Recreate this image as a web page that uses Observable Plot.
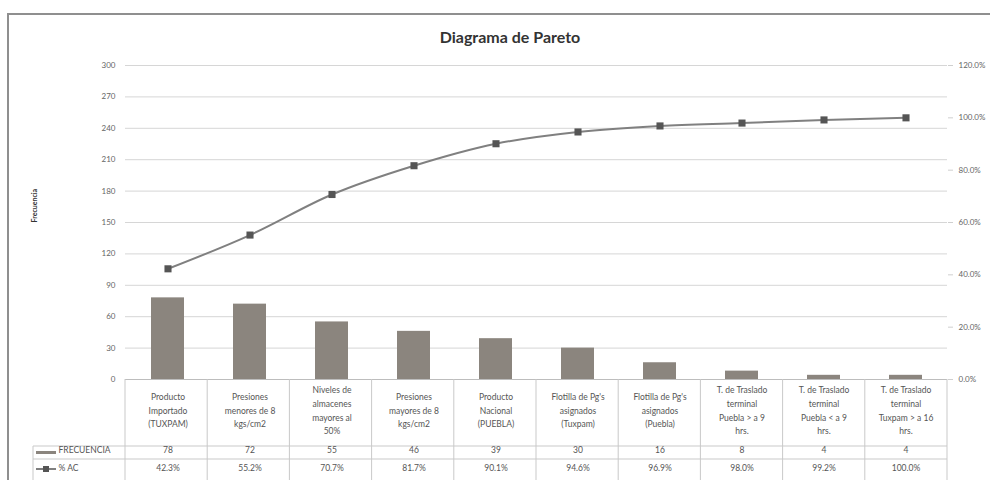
<!DOCTYPE html>
<html><head><meta charset="utf-8">
<script src="https://cdn.jsdelivr.net/npm/d3@7"></script>
<script src="https://cdn.jsdelivr.net/npm/@observablehq/plot@0.6"></script>
<style>
html,body{margin:0;padding:0;background:#fff;width:990px;height:480px;overflow:hidden;font-family:Lato,"Open Sans",sans-serif;}
#frame{position:absolute;left:7px;top:13px;width:1200px;height:600px;border-left:2px solid #8f8f8f;border-top:2px solid #8f8f8f;}
#title{position:absolute;top:27px;left:0;width:1020px;text-align:center;font:bold 16px Lato,"Open Sans",sans-serif;color:#333;}
#chart{position:absolute;left:0;top:50px;}
</style></head>
<body>
<div id="frame"></div>
<div id="title">Diagrama de Pareto</div>
<div id="chart"></div>
<script>
const categories = [
  "Producto\nImportado\n(TUXPAM)",
  "Presiones\nmenores de 8\nkgs/cm2",
  "Niveles de\nalmacenes\nmayores al\n50%",
  "Presiones\nmayores de 8\nkgs/cm2",
  "Producto\nNacional\n(PUEBLA)",
  "Flotilla de Pg's\nasignados\n(Tuxpam)",
  "Flotilla de Pg's\nasignados\n(Puebla)",
  "T. de Traslado\nterminal\nPuebla > a 9\nhrs.",
  "T. de Traslado\nterminal\nPuebla < a 9\nhrs.",
  "T. de Traslado\nterminal\nTuxpam > a 16\nhrs."
];
const frecuencia = [78, 72, 55, 46, 39, 30, 16, 8, 4, 4];
const acumulado = [42.3, 55.2, 70.7, 81.7, 90.1, 94.6, 96.9, 98.0, 99.2, 100.0];
const leftTicks = [0, 30, 60, 90, 120, 150, 180, 210, 240, 270, 300];
const rightTicks = [0, 20, 40, 60, 80, 100, 120];

const data = categories.map((c, i) => ({cat: c, f: frecuencia[i], p: acumulado[i]}));
const pctToY = p => p * 300 / 120;

const font = "Lato, 'Open Sans', sans-serif";
const tableColor = "#c9c9c9";

function tableLines(index, scales, values, dim) {
  const g = d3.create("svg:g");
  const x0 = dim.marginLeft, x1 = dim.width - dim.marginRight;
  const base = dim.height - dim.marginBottom;
  const n = categories.length, step = (x1 - x0) / n;
  const H = dim.height + 5;
  const tLeft = 33;
  const row1 = base + 67, row2 = base + 80;
  for (let i = 0; i <= n; i++) {
    g.append("line").attr("x1", x0 + i * step).attr("x2", x0 + i * step)
      .attr("y1", base).attr("y2", H).attr("stroke", tableColor);
  }
  g.append("line").attr("x1", tLeft).attr("x2", tLeft).attr("y1", row1).attr("y2", H).attr("stroke", tableColor);
  for (const yy of [row1, row2]) {
    g.append("line").attr("x1", tLeft).attr("x2", x1).attr("y1", yy).attr("y2", yy).attr("stroke", tableColor);
  }
  g.append("rect").attr("x", 36).attr("y", base + 72).attr("width", 20).attr("height", 3).attr("fill", "#8b857e");
  g.append("line").attr("x1", 36).attr("x2", 56).attr("y1", base + 90).attr("y2", base + 90).attr("stroke", "#7f7f7f").attr("stroke-width", 2);
  g.append("rect").attr("x", 43).attr("y", base + 87).attr("width", 6).attr("height", 6).attr("fill", "#555");
  return g.node();
}

const chart = Plot.plot({
  width: 990,
  height: 430,
  marginTop: 15,
  marginBottom: 101,
  marginLeft: 125,
  marginRight: 43,
  style: {fontFamily: font, background: "transparent", overflow: "visible"},
  x: {domain: categories, paddingInner: 0.6, paddingOuter: 0.3, axis: null},
  y: {domain: [0, 300], axis: null},
  marks: [
    Plot.gridY(leftTicks, {stroke: "#d6d6d6", strokeOpacity: 1}),
    Plot.ruleX([0], {frameAnchor: "left", stroke: "#cfcfcf"}),
    Plot.ruleX([0], {frameAnchor: "right", stroke: "#cfcfcf"}),
    Plot.barY(data, {x: "cat", y: "f", fill: "#8b857e"}),
    Plot.ruleY([0], {stroke: "#bdbdbd"}),
    Plot.lineY(data, {x: "cat", y: d => pctToY(d.p), stroke: "#808080", strokeWidth: 2, curve: "monotone-x"}),
    Plot.dot(data, {x: "cat", y: d => pctToY(d.p), symbol: "square", r: 4, fill: "#555", stroke: "none"}),
    Plot.axisY(leftTicks, {anchor: "left", label: null, tickSize: 0, tickPadding: 10, fontSize: 8, fill: "#666", tickFormat: d => String(d)}),
    Plot.axisY(rightTicks.map(pctToY), {anchor: "right", label: null, tickSize: 5, tickPadding: 6, fontSize: 8, fill: "#666", stroke: "#cfcfcf", tickFormat: d => (d * 120 / 300).toFixed(1) + "%"}),
    tableLines,
    Plot.text(data, {x: "cat", text: "cat", frameAnchor: "bottom", dy: 30, lineAnchor: "middle", lineHeight: 1.6, fontSize: 8.5, fill: "#555"}),
    Plot.text(data, {x: "cat", text: d => String(d.f), frameAnchor: "bottom", dy: 73.5, fontSize: 8.5, fill: "#555"}),
    Plot.text(data, {x: "cat", text: d => d.p.toFixed(1) + "%", frameAnchor: "bottom", dy: 91, fontSize: 8.5, fill: "#555"}),
    Plot.text(["FRECUENCIA"], {text: d => d, frameAnchor: "bottom-left", dx: -67, dy: 73.5, textAnchor: "start", fontSize: 8.5, fill: "#555"}),
    Plot.text(["% AC"], {text: d => d, frameAnchor: "bottom-left", dx: -67, dy: 91, textAnchor: "start", fontSize: 8.5, fill: "#555"}),
    Plot.text(["Frecuencia"], {text: d => d, frameAnchor: "left", dx: -91, rotate: -90, fontSize: 7, fontWeight: "bold", fill: "#333"})
  ]
});
document.getElementById("chart").appendChild(chart);
</script>
</body></html>
